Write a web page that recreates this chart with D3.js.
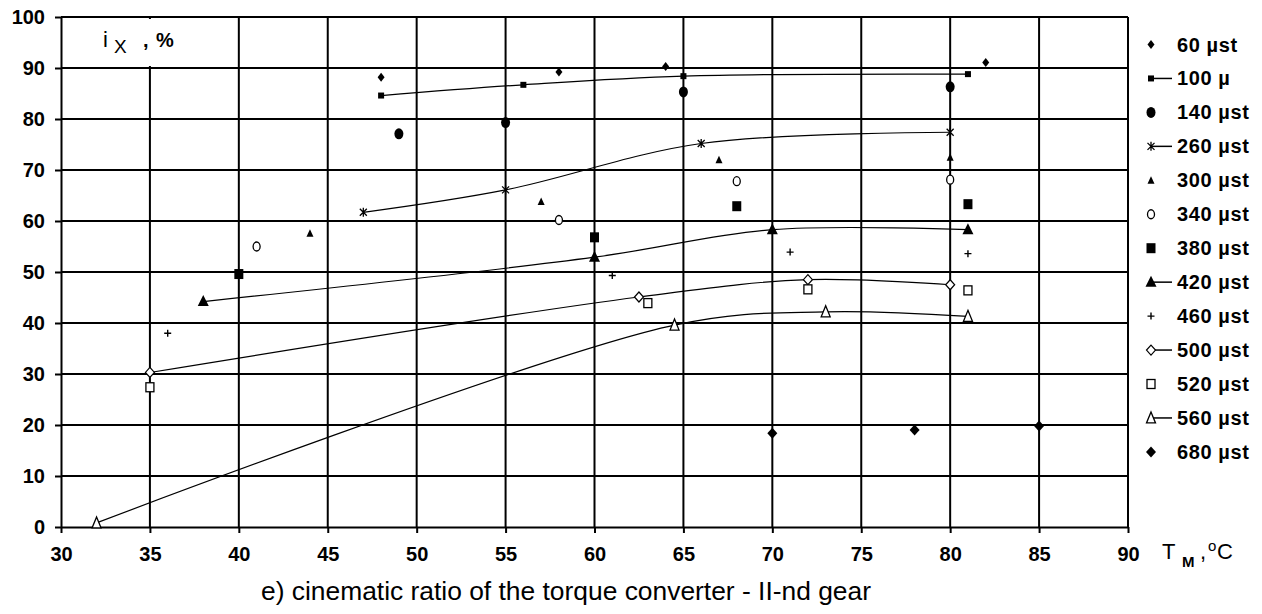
<!DOCTYPE html>
<html>
<head>
<meta charset="utf-8">
<script src="https://cdn.jsdelivr.net/npm/d3@7"></script>
<style>
  html, body { margin: 0; padding: 0; background: #fff; }
  svg { display: block; }
  .tick text, .legend text { font-family: "Liberation Sans", Arial, sans-serif; font-weight: bold; font-size: 20px; fill: #000; }
</style>
</head>
<body>
<svg id="chart" width="1262" height="614"></svg>
<script>
// Oil temperature (°C) and kinematic ratio (%) for each converter run
const seriesLabels = ["60 µst", "100 µ", "140 µst", "260 µst", "300 µst", "340 µst", "380 µst",
                      "420 µst", "460 µst", "500 µst", "520 µst", "560 µst", "680 µst"];

const temp60  = [48, 58, 64, 82];
const ratio60 = [88.2, 89.2, 90.3, 91.1];
const temp100  = [48, 56, 65, 81];
const ratio100 = [84.6, 86.7, 88.4, 88.8];
const temp140  = [49, 55, 65, 80];
const ratio140 = [77.1, 79.3, 85.3, 86.3];
const temp260  = [47, 55, 66, 80];
const ratio260 = [61.7, 66.1, 75.2, 77.4];
const temp300  = [44, 57, 67, 80];
const ratio300 = [57.6, 63.8, 72.0, 72.5];
const temp340  = [41, 58, 68, 80];
const ratio340 = [55.0, 60.2, 67.8, 68.1];
const temp380  = [40, 60, 68, 81];
const ratio380 = [49.6, 56.8, 62.9, 63.3];
const temp420  = [38, 60, 70, 81];
const ratio420 = [44.2, 52.9, 58.3, 58.3];
const temp460  = [36, 61, 71, 81];
const ratio460 = [38.0, 49.3, 53.9, 53.6];
const temp500  = [35, 62.5, 72, 80];
const ratio500 = [30.3, 45.1, 48.5, 47.5];
const temp520  = [35, 63, 72, 81];
const ratio520 = [27.4, 43.9, 46.6, 46.4];
const temp560  = [32, 64.5, 73, 81];
const ratio560 = [0.8, 39.6, 42.2, 41.3];
const temp680  = [70, 78, 85];
const ratio680 = [18.4, 19.0, 19.8];

const xTicks = [30, 35, 40, 45, 50, 55, 60, 65, 70, 75, 80, 85, 90];
const yTicks = [0, 10, 20, 30, 40, 50, 60, 70, 80, 90, 100];

// marker shape and whether a smoothed trend line joins the points
const markerShapes = ["diamondSmall", "squareSmall", "ellipseFilled", "star", "triangleSmall", "ellipseOpen",
                      "squareFilled", "triangleFilled", "plus", "diamondOpen", "squareOpen", "triangleOpen", "diamondFilled"];
const withLine = [false, true, false, true, false, false, false, true, false, true, false, true, false];

const temps  = [temp60, temp100, temp140, temp260, temp300, temp340, temp380, temp420, temp460, temp500, temp520, temp560, temp680];
const ratios = [ratio60, ratio100, ratio140, ratio260, ratio300, ratio340, ratio380, ratio420, ratio460, ratio500, ratio520, ratio560, ratio680];

const series = seriesLabels.map((label, i) => ({
  label,
  shape: markerShapes[i],
  line: withLine[i],
  points: temps[i].map((t, j) => ({ t, r: ratios[i][j] }))
}));

const svg = d3.select("#chart");
const x = d3.scaleLinear().domain([30, 90]).range([61, 1128]);
const y = d3.scaleLinear().domain([0, 100]).range([527, 17]);
const FONT = "Liberation Sans, Arial, sans-serif";

// grid
const grid = svg.append("g").attr("stroke", "#000").attr("stroke-width", 2);
grid.selectAll("line.v").data(xTicks.slice(1)).join("line")
  .attr("x1", d => x(d)).attr("x2", d => x(d))
  .attr("y1", y(0)).attr("y2", y(100));
grid.selectAll("line.h").data(yTicks.slice(1)).join("line")
  .attr("x1", x(30)).attr("x2", x(90))
  .attr("y1", d => y(d)).attr("y2", d => y(d));

// axes
const xAxis = svg.append("g").attr("transform", `translate(0,${y(0)})`)
  .call(d3.axisBottom(x).tickValues(xTicks).tickSize(6).tickSizeOuter(0).tickPadding(14));
const yAxis = svg.append("g").attr("transform", `translate(${x(30)},0)`)
  .call(d3.axisLeft(y).tickValues(yTicks).tickSize(6).tickSizeOuter(0).tickPadding(10));
[xAxis, yAxis].forEach(a => {
  a.selectAll("path.domain").attr("stroke", "#000").attr("stroke-width", 2);
  a.selectAll(".tick line").attr("stroke", "#000").attr("stroke-width", 2);
  a.attr("font-size", null).attr("font-family", null);
});

// y-axis title sits on a white patch inside the top-left cell
svg.append("rect").attr("x", x(30) + 3).attr("y", y(100) + 2)
  .attr("width", x(40) - x(30) - 6).attr("height", y(90) - y(100) - 4).attr("fill", "#fff");
const yTitle = svg.append("text").attr("y", 47).attr("font-family", FONT).attr("font-size", 22);
yTitle.append("tspan").attr("x", 103).text("i");
yTitle.append("tspan").attr("x", 114).attr("font-size", 19).attr("dy", 6).text("X");
yTitle.append("tspan").attr("x", 143).attr("dy", -6).attr("font-size", 20).attr("font-weight", "bold").text(",");
yTitle.append("tspan").attr("x", 156).attr("font-size", 20).attr("font-weight", "bold").text("%");

// x-axis title
const xTitle = svg.append("text").attr("y", 559).attr("font-family", FONT).attr("font-size", 22);
xTitle.append("tspan").attr("x", 1162).text("T");
xTitle.append("tspan").attr("x", 1182).attr("font-size", 15).attr("font-weight", "bold").attr("dy", 8).text("M");
xTitle.append("tspan").attr("x", 1200).attr("dy", -8).text(",");
xTitle.append("tspan").attr("x", 1208).attr("font-size", 15).attr("dy", -8).text("o");
xTitle.append("tspan").attr("x", 1217).attr("dy", 8).text("C");

// markers
function drawMarker(g, shape, cx, cy) {
  const m = g.append("g").attr("transform", `translate(${cx},${cy})`);
  const poly = pts => pts.map(p => p.join(",")).join(" ");
  switch (shape) {
    case "diamondSmall":
      m.append("polygon").attr("points", poly([[0, -4.5], [3.5, 0], [0, 4.5], [-3.5, 0]])).attr("fill", "#000"); break;
    case "squareSmall":
      m.append("rect").attr("x", -3).attr("y", -3).attr("width", 6).attr("height", 6).attr("fill", "#000"); break;
    case "ellipseFilled":
      m.append("ellipse").attr("rx", 4.5).attr("ry", 5.5).attr("fill", "#000"); break;
    case "star":
      m.append("path").attr("d", "M-3.5,-3.5L3.5,3.5M-3.5,3.5L3.5,-3.5M0,-4.5L0,4.5")
        .attr("stroke", "#000").attr("stroke-width", 1.3).attr("fill", "none"); break;
    case "triangleSmall":
      m.append("polygon").attr("points", poly([[0, -4], [3.5, 3.5], [-3.5, 3.5]])).attr("fill", "#000"); break;
    case "ellipseOpen":
      m.append("ellipse").attr("rx", 3.5).attr("ry", 4.5).attr("fill", "#fff").attr("stroke", "#000").attr("stroke-width", 1.3); break;
    case "squareFilled":
      m.append("rect").attr("x", -4.5).attr("y", -5).attr("width", 9).attr("height", 10).attr("fill", "#000"); break;
    case "triangleFilled":
      m.append("polygon").attr("points", poly([[0, -6.5], [5.5, 4.5], [-5.5, 4.5]])).attr("fill", "#000"); break;
    case "plus":
      m.append("path").attr("d", "M-3.5,0L3.5,0M0,-3.5L0,3.5").attr("stroke", "#000").attr("stroke-width", 1.4); break;
    case "diamondOpen":
      m.append("polygon").attr("points", poly([[0, -5], [4.5, 0], [0, 5], [-4.5, 0]]))
        .attr("fill", "#fff").attr("stroke", "#000").attr("stroke-width", 1.2); break;
    case "squareOpen":
      m.append("rect").attr("x", -4).attr("y", -4.5).attr("width", 8).attr("height", 9)
        .attr("fill", "#fff").attr("stroke", "#000").attr("stroke-width", 1.3); break;
    case "triangleOpen":
      m.append("polygon").attr("points", poly([[0, -6], [4.5, 5], [-4.5, 5]]))
        .attr("fill", "#fff").attr("stroke", "#000").attr("stroke-width", 1.3); break;
    case "diamondFilled":
      m.append("polygon").attr("points", poly([[0, -5.5], [5, 0], [0, 5.5], [-5, 0]])).attr("fill", "#000"); break;
  }
}

// smoothed trend lines
const curve = d3.line().x(d => x(d.t)).y(d => y(d.r)).curve(d3.curveCatmullRom.alpha(0.5));
const plot = svg.append("g");
series.filter(s => s.line).forEach(s => {
  plot.append("path").attr("d", curve(s.points))
    .attr("fill", "none").attr("stroke", "#000").attr("stroke-width", 1.2);
});
series.forEach(s => s.points.forEach(p => drawMarker(plot, s.shape, x(p.t), y(p.r))));

// legend
const legend = svg.append("g").attr("class", "legend");
series.forEach((s, i) => {
  const cy = 44.5 + i * 33.95;
  if (s.line) {
    legend.append("line").attr("x1", 1151).attr("x2", 1172).attr("y1", cy).attr("y2", cy)
      .attr("stroke", "#000").attr("stroke-width", 1.5);
  }
  drawMarker(legend, s.shape, 1151, cy);
  legend.append("text").attr("x", 1177).attr("y", cy + 7).attr("letter-spacing", 0.6).text(s.label);
});

// caption
svg.append("text").attr("x", 261).attr("y", 600)
  .attr("font-family", FONT).attr("font-size", 25)
  .attr("textLength", 610).attr("lengthAdjust", "spacingAndGlyphs")
  .text("e) cinematic ratio of the torque converter - II-nd gear");
</script>
</body>
</html>
